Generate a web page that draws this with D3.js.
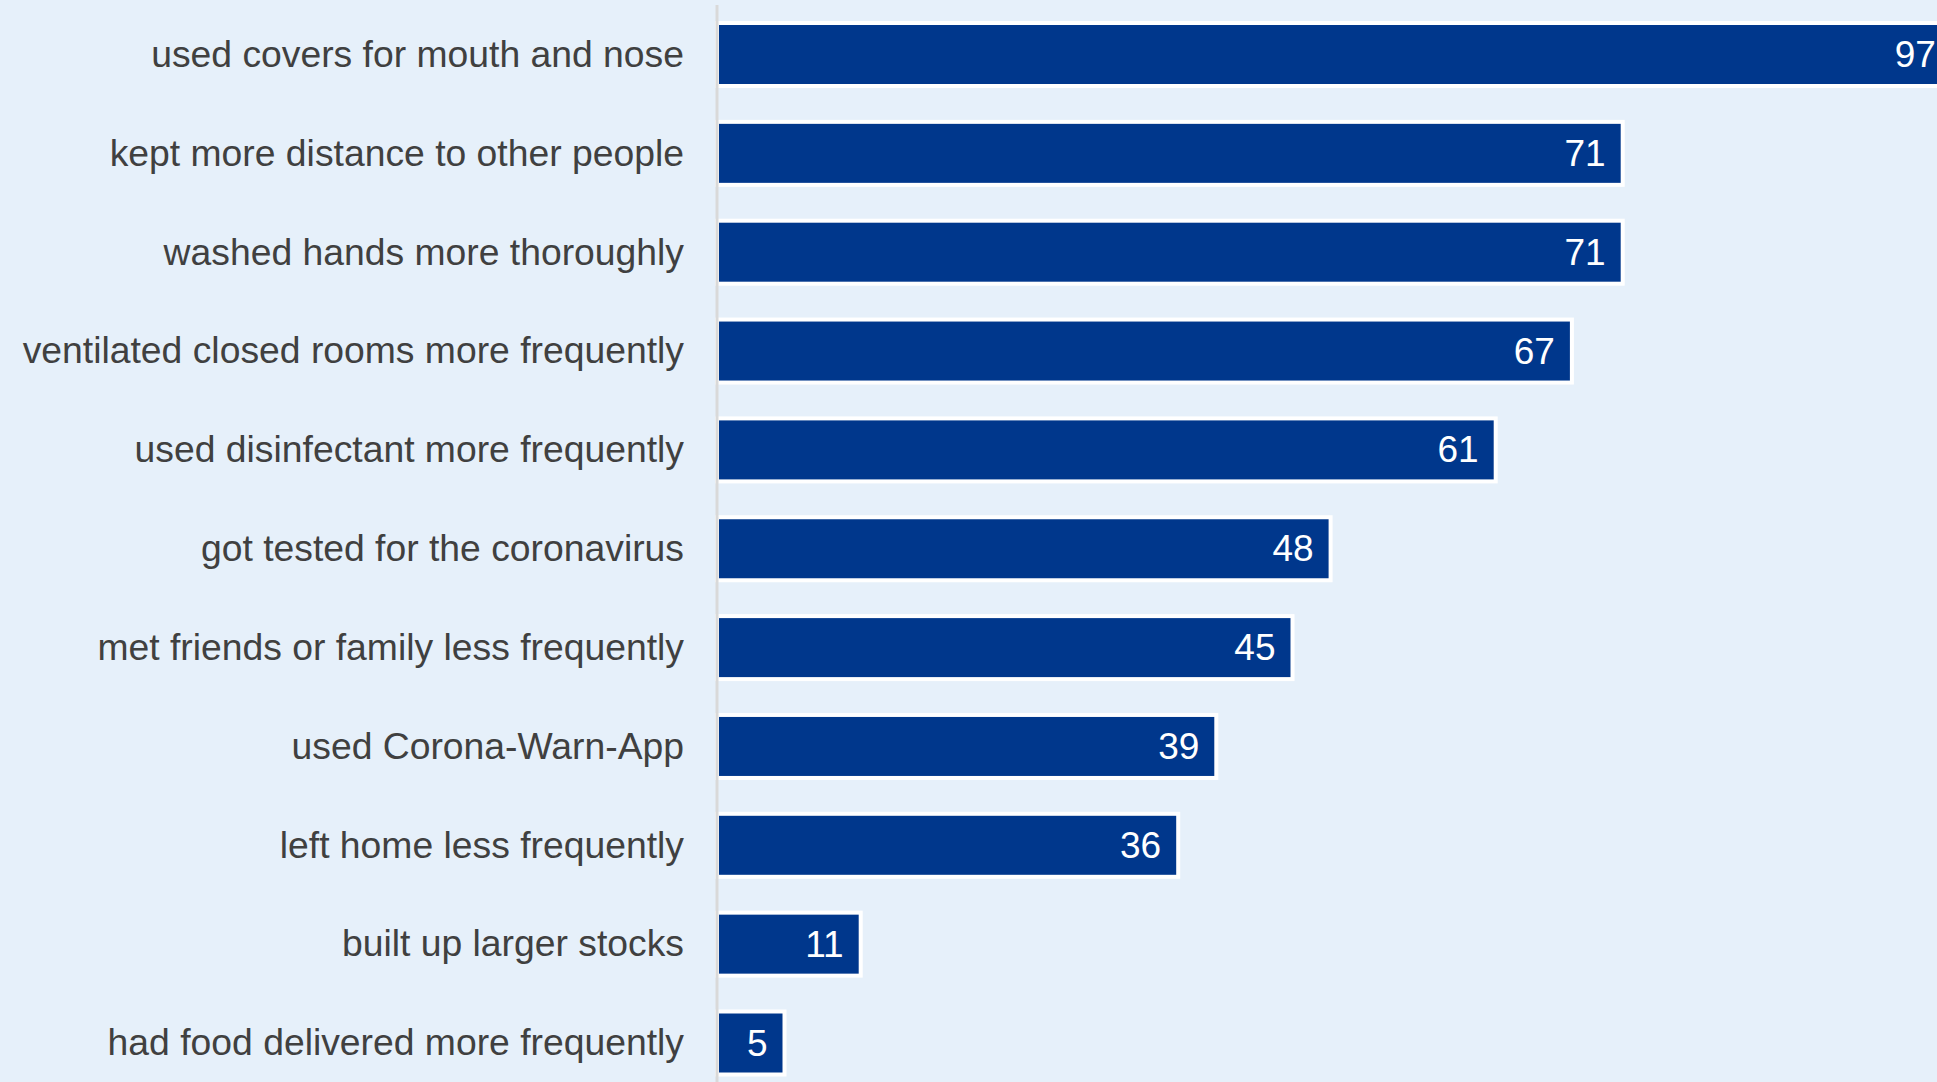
<!DOCTYPE html>
<html><head><meta charset="utf-8">
<script src="https://cdn.jsdelivr.net/npm/d3@7"></script>
<style>html,body{margin:0;padding:0;background:#e6f0fa;overflow:hidden}</style>
</head><body>
<svg id="c" width="1937" height="1082"></svg>
<script>
const categories = [
  "used covers for mouth and nose",
  "kept more distance to other people",
  "washed hands more thoroughly",
  "ventilated closed rooms more frequently",
  "used disinfectant more frequently",
  "got tested for the coronavirus",
  "met friends or family less frequently",
  "used Corona-Warn-App",
  "left home less frequently",
  "built up larger stocks",
  "had food delivered more frequently"
];
const values = [97, 71, 71, 67, 61, 48, 45, 39, 36, 11, 5];

const svg = d3.select("#c");
svg.append("rect").attr("width",1937).attr("height",1082).attr("fill","#e6f0fa");

const x = d3.scaleLinear().domain([0,100]).range([719, 1989]);
const y = d3.scalePoint().domain(categories).range([54.5, 1043]);
const barH = 59;

const g = svg.append("g");
categories.forEach((c,i)=>{
  const v = values[i];
  g.append("rect")
    .attr("x", x(0)-2).attr("y", y(c)-barH/2-2)
    .attr("width", x(v)-x(0)+4).attr("height", barH+4)
    .attr("fill","#00378c").attr("stroke","#ffffff").attr("stroke-width",4);
  g.append("text")
    .attr("x", x(v)-15).attr("y", y(c)).attr("dy","0.34em")
    .attr("text-anchor","end").attr("fill","#ffffff")
    .style("font-family","'Liberation Sans', Arial, sans-serif").style("font-size","37px")
    .text(v);
  g.append("text")
    .attr("x", 684).attr("y", y(c)).attr("dy","0.33em")
    .attr("text-anchor","end").attr("fill","#404040")
    .style("font-family","'Liberation Sans', Arial, sans-serif").style("font-size","37.3px")
    .text(c);
});
svg.append("line").attr("x1",717).attr("x2",717).attr("y1",5).attr("y2",1082)
  .attr("stroke","#d9d9d9").attr("stroke-width",3);
</script>
</body></html>
